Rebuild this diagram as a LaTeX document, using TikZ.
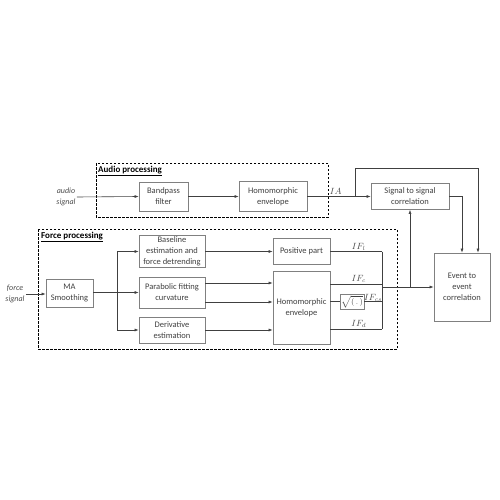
\documentclass[tikz,border=0pt]{standalone}
\usepackage{fontspec}
\setsansfont{Carlito}
\usetikzlibrary{arrows.meta,calc}
\begin{document}
\begin{tikzpicture}[x=1pt,y=-1pt,
  box/.style={draw=black!50,line width=0.7pt,fill=white,align=center,inner sep=1pt,
    font=\sffamily\fontsize{8.5}{11}\selectfont,text=black!75},
  conn/.style={draw=black!75,line width=0.6pt},
  arr/.style={conn,-{Latex[length=4pt,width=3pt]}},
  grp/.style={draw=black,line width=0.8pt,dash pattern=on 2.5pt off 1.5pt},
  grplabel/.style={anchor=north west,inner sep=1pt,font=\sffamily\bfseries\fontsize{9}{11}\selectfont},
  sig/.style={align=center,inner sep=1pt,font=\sffamily\itshape\fontsize{8}{11}\selectfont,text=black!70},
  lab/.style={inner sep=1pt,font=\fontsize{9}{10}\selectfont,text=black!70}]
\useasboundingbox (0,0) rectangle (500,500);
% group frames
\draw[grp] (96,163) rectangle (328,217);
\draw[grp] (38,229) rectangle (397,349);
\node[grplabel] (gA) at (97,165) {\underline{Audio processing}};
\node[grplabel] (gF) at (40,231) {\underline{Force processing}};
% audio chain
\node[sig] (audio) at (66,197) {audio\\signal};
\node[box,minimum width=49pt,minimum height=29pt] (bp) at (163.5,196.5) {Bandpass\\filter};
\node[box,minimum width=68pt,minimum height=30pt] (ha) at (273,196.5) {Homomorphic\\envelope};
\node[box,minimum width=78pt,minimum height=26pt] (s2s) at (410,196.5) {Signal to signal\\correlation};
\node[box,minimum width=56pt,minimum height=68pt] (ev) at (462,287) {Event to\\event\\correlation};
% force chain
\node[sig] (force) at (15,294) {force\\signal};
\node[box,minimum width=47pt,minimum height=28pt] (ma) at (69.5,293) {MA\\Smoothing};
\node[box,minimum width=66pt,minimum height=31pt] (bl) at (172,251.5) {Baseline\\estimation and\\force detrending};
\node[box,minimum width=66pt,minimum height=31pt] (par) at (172,292.5) {Parabolic fitting\\curvature};
\node[box,minimum width=66pt,minimum height=26pt] (der) at (172,330) {Derivative\\estimation};
\node[box,minimum width=57pt,minimum height=26pt] (pos) at (301.5,251.5) {Positive part};
\node[box,minimum width=57pt,minimum height=73pt] (hf) at (301.5,307.5) {Homomorphic\\envelope};
\node[box,minimum width=22pt,minimum height=15pt,font=\fontsize{8}{9}\selectfont] (sq) at (352,301.5) {$\sqrt{(\,.\,)}$};
% coordinates
\coordinate (fj) at (117,292.5);
\coordinate (busT) at (382,251.5);
\coordinate (busB) at (382,329);
\coordinate (j) at (382,287);
\coordinate (ia) at (355,196.5);
\coordinate (tr) at (478,168);
% audio connectors
\draw[arr] (audio.east) -- (bp.west);
\draw[arr] (bp.east) -- (ha.west);
\draw[arr] (ha.east) -- node[lab,pos=0.45,above=1pt] {$IA$} (s2s.west);
\draw[arr] (ia) |- (tr) -- (tr |- ev.north);
\draw[arr] (s2s.east) -| (ev.north);
% force connectors
\draw[arr] (force.east) -- (force.east -| ma.west);
\draw[conn] (ma.east |- fj) -- (fj);
\draw[arr] (fj) |- (bl.west);
\draw[arr] (fj) -- (par.west);
\draw[arr] (fj) |- (der.west);
\draw[arr] (bl.east) -- (pos.west);
\draw[arr] (par.east |- 0,283) -- (hf.west |- 0,283);
\draw[arr] (par.east |- 0,302) -- (hf.west |- 0,302);
\draw[arr] (der.east) -- (hf.west |- der.east);
% outputs
\draw[conn] (pos.east) -- node[lab,above=0pt,pos=0.55] {$IF_l$} (busT);
\draw[conn] (hf.east |- 0,284) -- node[lab,above=0pt,pos=0.55] {$IF_c$} (busT |- 0,284);
\draw[conn] (hf.east |- sq.west) -- (sq.west);
\draw[conn] (sq.east) -- node[lab,above=-1pt,pos=0.5] {$IF_{cs}$} (busT |- sq.east);
\draw[conn] (hf.east |- busB) -- node[lab,above=0pt,pos=0.55] {$IF_d$} (busB);
\draw[conn] (busT) -- (busB);
\draw[arr] (j) -- (ev.west);
\draw[arr] (j -| s2s.south) -- (s2s.south);
\end{tikzpicture}
\end{document}
